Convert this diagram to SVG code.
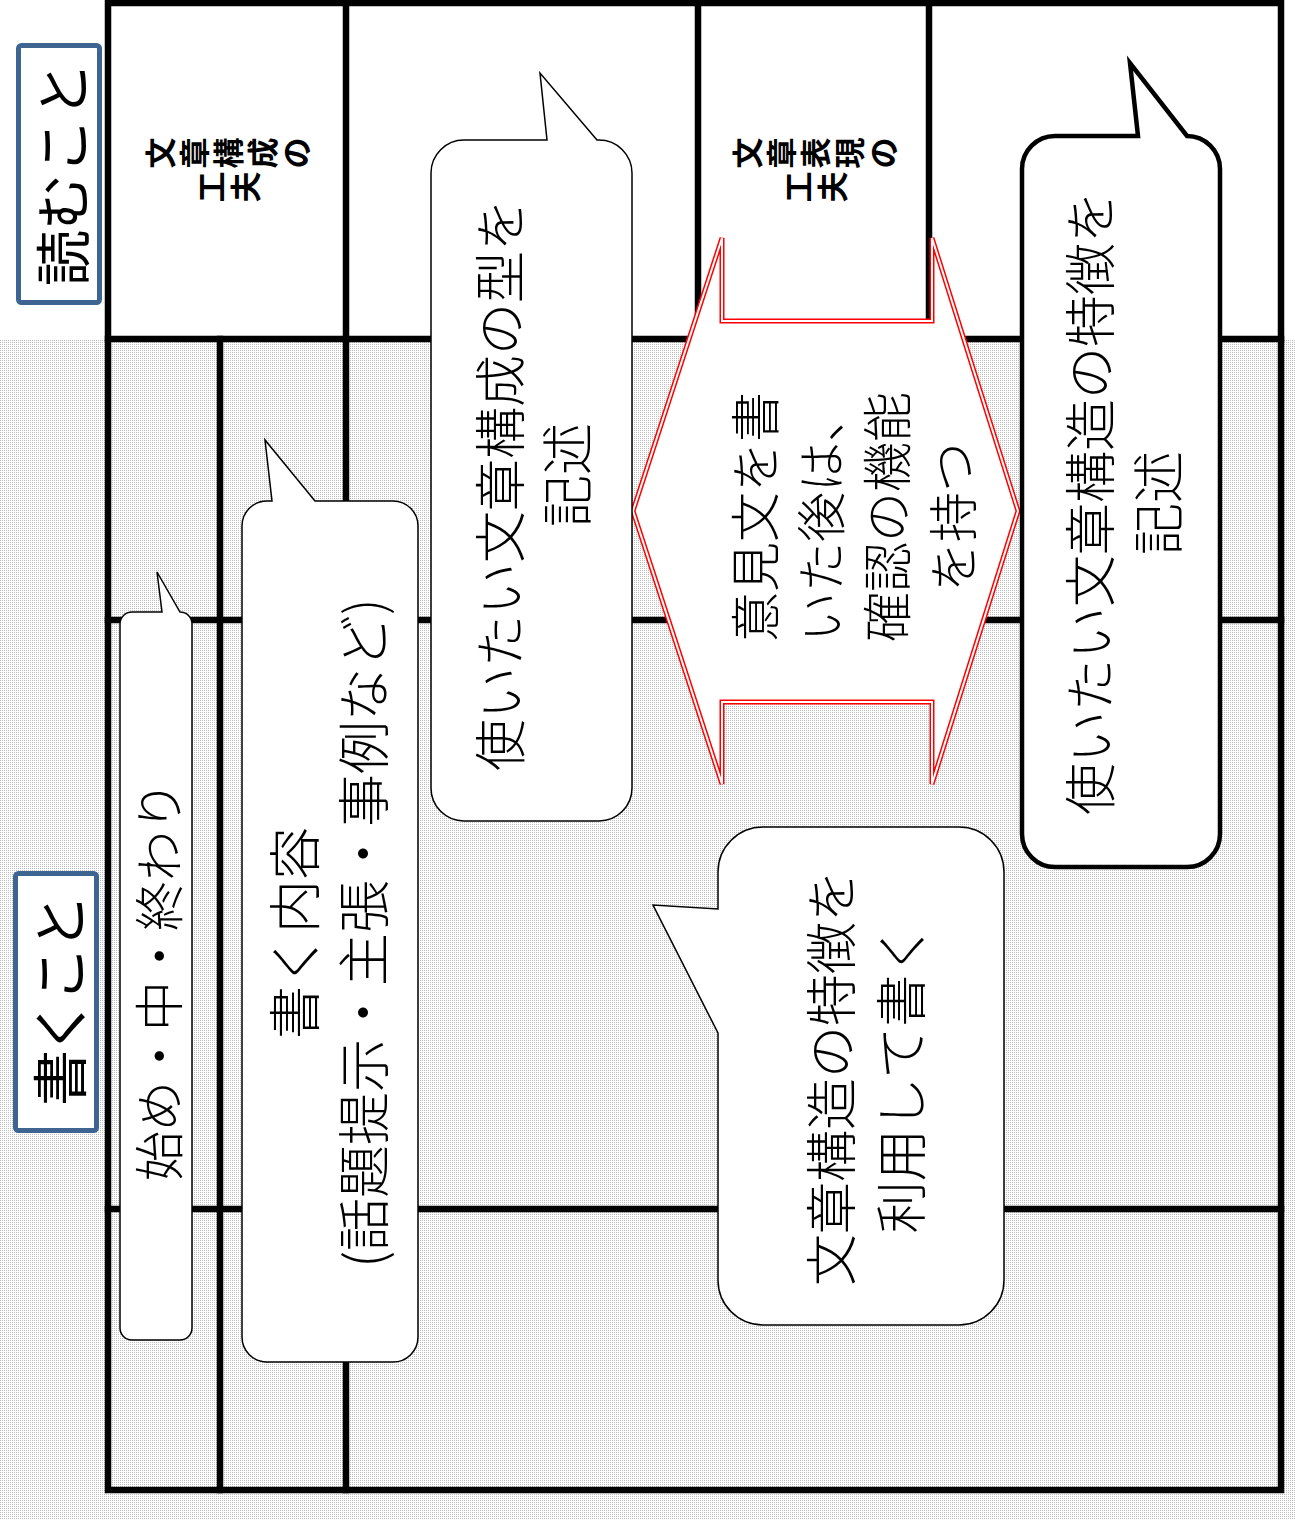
<svg xmlns="http://www.w3.org/2000/svg" width="1295" height="1520" viewBox="0 0 1295 1520">
  <defs>
    <pattern id="dots" patternUnits="userSpaceOnUse" width="2" height="2">
      <rect width="2" height="2" fill="#ffffff"/>
      <rect width="1" height="1" fill="#bdbdbd"/>
    </pattern>
    <style>
      text { font-family: "Noto Sans CJK JP", "Noto Sans CJK SC", sans-serif; fill: #000; text-anchor: middle; dominant-baseline: central; }
      .lt { font-weight: 300; }
      .big { font-size: 52px; font-weight: 300; }
      .head { font-size: 56px; }
      .cell { font-size: 31px; font-weight: bold; }
      .grid { stroke: #000; stroke-width: 6.5; fill: none; stroke-linecap: square; }
      .bubble { fill: #fff; stroke: #000; stroke-width: 1.5; stroke-linejoin: miter; }
      .bubble-thick { fill: #fff; stroke: #000; stroke-width: 4.5; stroke-linejoin: miter; }
      .label-box { fill: #fff; stroke: #3E6491; stroke-width: 5; }
    </style>
  </defs>

  <!-- background -->
  <rect x="0" y="0" width="1295" height="1520" fill="#ffffff"/>
  <rect x="0" y="339" width="1295" height="1181" fill="url(#dots)"/>
  <rect x="108" y="3" width="1173" height="336" fill="#ffffff"/>

  <!-- table grid -->
  <g id="grid" class="grid">
    <rect x="108" y="3" width="1173" height="1487"/>
    <line x1="108" y1="339" x2="1281" y2="339"/>
    <line x1="346" y1="3" x2="346" y2="339"/>
    <line x1="698" y1="3" x2="698" y2="339"/>
    <line x1="929" y1="3" x2="929" y2="339"/>
    <line x1="220" y1="339" x2="220" y2="1490"/>
    <line x1="346" y1="339" x2="346" y2="1490"/>
    <line x1="108" y1="620" x2="1281" y2="620"/>
    <line x1="108" y1="1209" x2="1281" y2="1209"/>
  </g>

  <!-- header labels -->
  <g id="label-reading">
    <rect class="label-box" x="18.5" y="45.5" width="81" height="257" rx="3"/>
    <text class="head" transform="translate(59,174) rotate(-90)" x="0" y="0">読むこと</text>
  </g>
  <g id="label-writing">
    <rect class="label-box" x="15.5" y="873.5" width="81" height="257" rx="3"/>
    <text class="head" transform="translate(56,1002) rotate(-90)" x="0" y="0" style="letter-spacing:-4px">書くこと</text>
  </g>

  <!-- top row cell labels (vertical writing, rotated) -->
  <g id="cell-structure">
    <text class="cell" x="158" y="153" transform="rotate(-90 158 153)">文</text>
    <text class="cell" x="192" y="153" transform="rotate(-90 192 153)">章</text>
    <text class="cell" x="226" y="153" transform="rotate(-90 226 153)">構</text>
    <text class="cell" x="260" y="153" transform="rotate(-90 260 153)">成</text>
    <text class="cell" x="294" y="153" transform="rotate(-90 294 153)">の</text>
    <text class="cell" x="209" y="187" transform="rotate(-90 209 187)">工</text>
    <text class="cell" x="243" y="187" transform="rotate(-90 243 187)">夫</text>
  </g>
  <g id="cell-expression">
    <text class="cell" x="745" y="153" transform="rotate(-90 745 153)">文</text>
    <text class="cell" x="779" y="153" transform="rotate(-90 779 153)">章</text>
    <text class="cell" x="813" y="153" transform="rotate(-90 813 153)">表</text>
    <text class="cell" x="847" y="153" transform="rotate(-90 847 153)">現</text>
    <text class="cell" x="881" y="153" transform="rotate(-90 881 153)">の</text>
    <text class="cell" x="796" y="187" transform="rotate(-90 796 187)">工</text>
    <text class="cell" x="830" y="187" transform="rotate(-90 830 187)">夫</text>
  </g>

  <!-- double-headed block arrow -->
  <g id="arrow-check">
    <path d="M633,511 L722,238 V321 H932 V238 L1018,511 L932,784 V702 H722 V784 Z" fill="#fff" stroke="#FF0000" stroke-width="5" stroke-linejoin="miter"/>
    <path d="M633,511 L722,238 V321 H932 V238 L1018,511 L932,784 V702 H722 V784 Z" fill="none" stroke="#fff" stroke-width="2" stroke-linejoin="miter"/>
    <g transform="translate(851,517) rotate(-90)">
      <text class="lt" x="0" y="-99" style="font-size:50px">意見文を書</text>
      <text class="lt" x="0" y="-33" style="font-size:50px">いた後は、</text>
      <text class="lt" x="0" y="33" style="font-size:50px">確認の機能</text>
      <text class="lt" x="0" y="99" style="font-size:50px">を持つ</text>
    </g>
  </g>

  <!-- bubble A -->
  <g id="bubble-sections">
    <path class="bubble" d="M132,612 H162 L157,572 L180,612 A12,12 0 0 1 192,624 V1328 A12,12 0 0 1 180,1340 H132 A12,12 0 0 1 120,1328 V624 A12,12 0 0 1 132,612 Z"/>
    <text class="lt" transform="translate(156,981) rotate(-90)" x="0" y="0" style="font-size:50px">始め・中・終わり</text>
  </g>

  <!-- bubble B -->
  <g id="bubble-content">
    <path class="bubble" d="M267,501 H272 L265,440 L315,501 H393 A25,25 0 0 1 418,526 V1337 A25,25 0 0 1 393,1362 H267 A25,25 0 0 1 242,1337 V526 A25,25 0 0 1 267,501 Z"/>
    <g transform="translate(326,933) rotate(-90)">
      <text class="lt" x="0" y="-34" style="font-size:53px">書く内容</text>
      <text class="lt" x="0" y="35" style="font-size:53px">(話題提示・主張・事例など)</text>
    </g>
  </g>

  <!-- bubble C -->
  <g id="bubble-composition">
    <path class="bubble" d="M464,140 H547 L540,73 L597,140 H599 A33,33 0 0 1 632,173 V788 A33,33 0 0 1 599,821 H464 A33,33 0 0 1 431,788 V173 A33,33 0 0 1 464,140 Z"/>
    <g transform="translate(530,480) rotate(-90)">
      <text class="big" x="-5" y="-33">使いたい文章構成の型を</text>
      <text class="big" x="5" y="34">記述</text>
    </g>
  </g>

  <!-- bubble D -->
  <g id="bubble-structure">
    <path class="bubble-thick" d="M1055,136 H1138 L1130,63 L1187,136 A33,33 0 0 1 1220,169 V834 A33,33 0 0 1 1187,867 H1055 A33,33 0 0 1 1022,834 V169 A33,33 0 0 1 1055,136 Z"/>
    <g transform="translate(1121,503) rotate(-90)">
      <text class="big" x="0" y="-34">使いたい文章構造の特徴を</text>
      <text class="big" x="0" y="34">記述</text>
    </g>
  </g>

  <!-- bubble E -->
  <g id="bubble-use">
    <path class="bubble" d="M763,827 H959 A45,45 0 0 1 1004,872 V1280 A45,45 0 0 1 959,1325 H763 A45,45 0 0 1 718,1280 V1033 L653,905 L718,909 V872 A45,45 0 0 1 763,827 Z"/>
    <g transform="translate(863,1078) rotate(-90)">
      <text class="big" x="0" y="-35">文章構造の特徴を</text>
      <text class="big" x="0" y="35">利用して書く</text>
    </g>
  </g>

  <g id="connectors"></g>
</svg>
